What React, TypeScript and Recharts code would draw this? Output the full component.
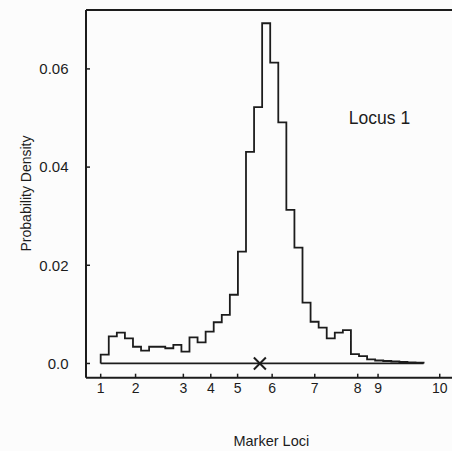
import {
  ComposedChart,
  Line,
  XAxis,
  YAxis,
  ReferenceLine,
  ReferenceDot,
} from "recharts";

// histogram of the locus position, 40 bins of 2.5 cM starting at marker 1
const BIN_WIDTH = 2.5;
const density = [
  0.0018, 0.0055, 0.0063, 0.0051, 0.0034, 0.0026, 0.0034, 0.0034, 0.0031, 0.0038,
  0.0024, 0.0053, 0.0043, 0.0065, 0.0084, 0.0099, 0.014, 0.0228, 0.0431, 0.0522,
  0.0693, 0.0613, 0.0491, 0.0313, 0.0236, 0.0124, 0.0085, 0.0073, 0.0051, 0.0063,
  0.0068, 0.0019, 0.0015, 0.00085, 0.0006, 0.0005, 0.0004, 0.0003, 0.0002, 0.00015,
];

// marker map positions (cM) and their labels
const markerPos = [0, 10.8, 25.6, 34.1, 42.4, 53.1, 66.3, 79.6, 85.9, 105];
const markerLabels = ["1", "2", "3", "4", "5", "6", "7", "8", "9", "10"];

// true locus position (the X on the baseline)
const trueLocus = 49.3;

const yTicks = [0, 0.02, 0.04, 0.06];

const X_DOMAIN: [number, number] = [-4.55, 108.8];
const Y_DOMAIN: [number, number] = [-0.0029, 0.072];

const histEnd = density.length * BIN_WIDTH;
const histData = [
  { x: 0, y: 0 },
  ...density.map((v, i) => ({ x: i * BIN_WIDTH, y: v })),
  { x: histEnd, y: 0 },
];

const INK = "#1c1c1c";
const FONT = "'Liberation Sans', Arial, Helvetica, sans-serif";

// the page has an 8px body margin; drop it so the chart sits at 0,0
if (typeof document !== "undefined") {
  document.body.style.margin = "0";
  document.body.style.background = "#fcfcfc";
}

const formatX = (v: number) => {
  const i = markerPos.indexOf(v);
  return i >= 0 ? markerLabels[i] : "";
};

const formatY = (v: number) => (v === 0 ? "0.0" : v.toFixed(2));

const Cross = ({ cx, cy }: { cx?: number; cy?: number }) => {
  if (cx == null || cy == null) return null;
  const r = 6;
  return (
    <g stroke={INK} strokeWidth={2}>
      <line x1={cx - r} y1={cy - r} x2={cx + r} y2={cy + r} />
      <line x1={cx - r} y1={cy + r} x2={cx + r} y2={cy - r} />
    </g>
  );
};

export default function App() {
  return (
    <div style={{ width: 452, height: 451, overflow: "hidden", background: "#fcfcfc" }}>
      <ComposedChart
        width={452}
        height={451}
        margin={{ top: 10, right: 0, left: 0, bottom: 43.3 }}
        style={{ fontFamily: FONT }}
      >
        <XAxis
          type="number"
          dataKey="x"
          domain={X_DOMAIN}
          allowDataOverflow
          ticks={markerPos}
          interval={0}
          tickFormatter={formatX}
          height={30}
          tickSize={-4}
          tickMargin={9.5}
          axisLine={{ stroke: INK, strokeWidth: 2 }}
          tickLine={{ stroke: INK, strokeWidth: 1.5 }}
          tick={{ fill: INK, fontSize: 14 }}
        />
        <YAxis
          type="number"
          domain={Y_DOMAIN}
          allowDataOverflow
          ticks={yTicks}
          interval={0}
          tickFormatter={formatY}
          width={86}
          tickSize={-4}
          tickMargin={21.5}
          axisLine={{ stroke: INK, strokeWidth: 2 }}
          tickLine={{ stroke: INK, strokeWidth: 1.5 }}
          tick={{ fill: INK, fontSize: 15 }}
        />
        <ReferenceLine y={Y_DOMAIN[1]} stroke={INK} strokeWidth={2} />
        <ReferenceLine
          segment={[
            { x: 0, y: 0 },
            { x: histEnd, y: 0 },
          ]}
          stroke={INK}
          strokeWidth={1.8}
        />
        <Line
          data={histData}
          dataKey="y"
          type="stepAfter"
          stroke={INK}
          strokeWidth={1.8}
          dot={false}
          activeDot={false}
          isAnimationActive={false}
        />
        <ReferenceDot x={trueLocus} y={0} shape={<Cross />} />
        <text
          x={25.5}
          y={193.5}
          transform="rotate(-90 25.5 193.5)"
          textAnchor="middle"
          dominantBaseline="central"
          fontSize={14}
          fill={INK}
        >
          Probability Density
        </text>
        <text
          x={271.3}
          y={441}
          textAnchor="middle"
          dominantBaseline="central"
          fontSize={14.5}
          fill={INK}
        >
          Marker Loci
        </text>
        <text
          x={379.5}
          y={118}
          textAnchor="middle"
          dominantBaseline="central"
          fontSize={17.5}
          fill={INK}
        >
          Locus 1
        </text>
      </ComposedChart>
    </div>
  );
}
